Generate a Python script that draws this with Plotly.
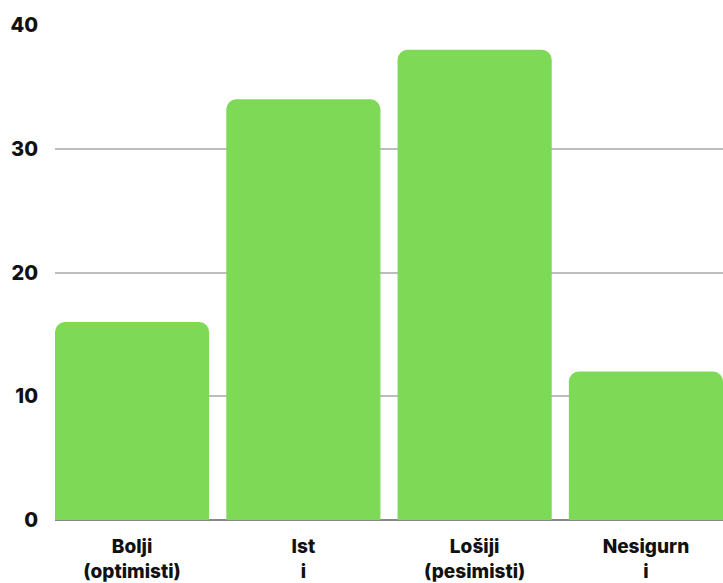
import plotly.graph_objects as go

categories = ["Bolji<br>(optimisti)", "Ist<br>i", "Lošiji<br>(pesimisti)", "Nesigurn<br>i"]
values = [16, 34, 38, 12]
yticks = [0, 10, 20, 30, 40]

fig = go.Figure(go.Bar(
    x=list(range(len(categories))), y=values,
    marker=dict(color="#7ED957", line=dict(width=0)),
    width=0.9,
))
fig.update_layout(
    width=723, height=583,
    margin=dict(l=55, r=0, t=24, b=63),
    plot_bgcolor="white", paper_bgcolor="white",
    barcornerradius=10,
    showlegend=False,
    font=dict(family="Inter", color="#111"),
)
fig.update_xaxes(
    tickmode="array", tickvals=list(range(len(categories))), ticktext=categories,
    range=[-0.45, 3.45], showgrid=False, showline=False, zeroline=False,
    tickfont=dict(size=19, family="Inter", weight=800),
    ticks="", ticklabelstandoff=13,
)
fig.update_yaxes(
    range=[0, 40.08], tickvals=yticks, showgrid=True, gridcolor="#bdbdbd", gridwidth=2,
    zeroline=True, zerolinecolor="#888", zerolinewidth=1.5,
    tickfont=dict(size=20, family="Inter", weight=800),
    ticklabelstandoff=16, showline=False,
)
fig.write_html(
    "out.html",
    config={"displayModeBar": False},
    post_script="document.body.style.margin='0';document.body.style.overflow='hidden';",
)
